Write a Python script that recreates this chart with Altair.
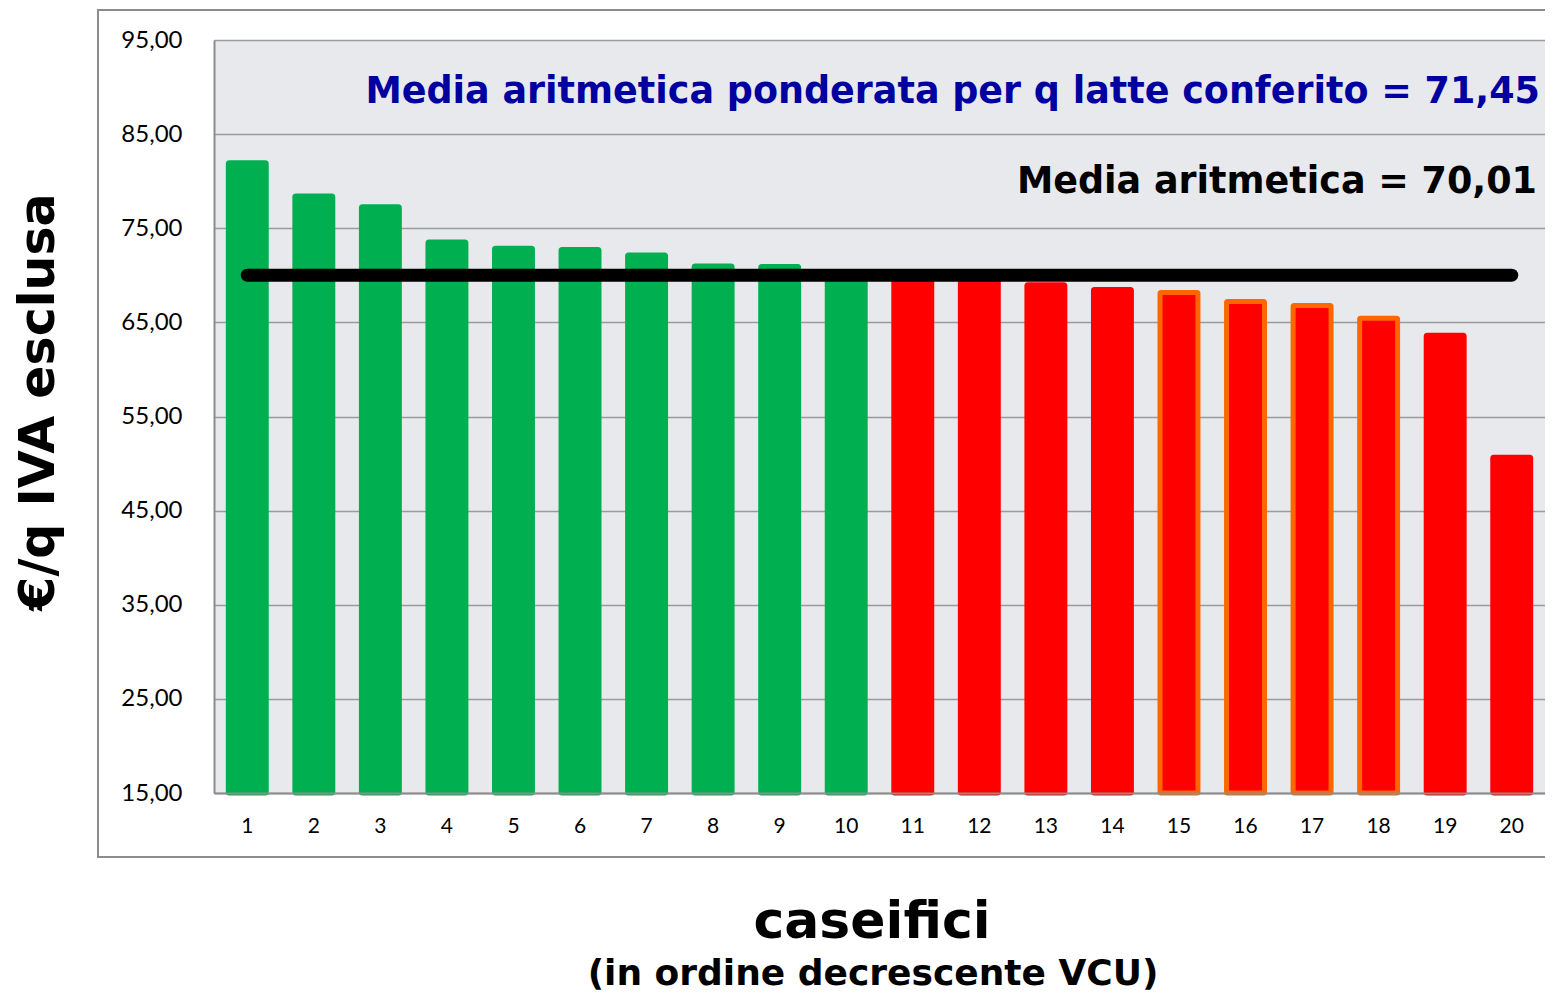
import altair as alt
import pandas as pd

# --- data ---
caseifici = list(range(1, 21))
vcu = [81.96, 78.43, 77.29, 73.55, 72.87, 72.73, 72.17, 71.00, 70.93, 70.30,
       69.90, 69.80, 69.00, 68.50, 68.17, 67.22, 66.79, 65.45, 63.64, 50.67]
colori = ["#00b050"] * 10 + ["#ff0000"] * 10
bordi = ["#00b050"] * 10 + ["#ff0000"] * 4 + ["#ff6600"] * 4 + ["#ff0000"] * 2
base_val = 15
media_aritmetica = 70.01
media_ponderata = 71.45
y_ticks = list(range(15, 96, 10))

df = pd.DataFrame({
    "caseificio": caseifici,
    "vcu": vcu,
    "base": [base_val] * len(caseifici),
    "fill": colori,
    "bordo": bordi,
})
df_media = pd.DataFrame({"caseificio": [caseifici[0], caseifici[-1]],
                         "media": [media_aritmetica, media_aritmetica]})

x_enc = alt.X(
    "caseificio:O",
    scale=alt.Scale(paddingInner=0.43, paddingOuter=0.215),
    axis=alt.Axis(title=None, labelAngle=0, labelFont="Lato", labelFontSize=21,
                  labelColor="black", labelPadding=22, ticks=False,
                  domainColor="#8c8c8c", domainWidth=2, zindex=1),
)
y_enc = alt.Y(
    "vcu:Q",
    scale=alt.Scale(domain=[15, 95], nice=False, zero=False),
    axis=alt.Axis(title=None, values=y_ticks,
                  labelExpr="replace(format(datum.value, '.2f'), '.', ',')",
                  labelFont="Lato", labelFontSize=24, labelColor="black",
                  labelPadding=32, ticks=False, grid=True,
                  gridColor="#9b9b9b", gridWidth=1.5,
                  domainColor="#8c8c8c", domainWidth=2),
)

bars = alt.Chart(df).mark_bar(strokeWidth=5, cornerRadius=1).encode(
    x=x_enc,
    y=y_enc,
    y2="base:Q",
    color=alt.Color("fill:N", scale=None),
    stroke=alt.Stroke("bordo:N", scale=None),
)

line = alt.Chart(df_media).mark_line(color="black", strokeWidth=13, strokeCap="round").encode(
    x=alt.X("caseificio:O"),
    y=alt.Y("media:Q"),
)

frame = alt.Chart(pd.DataFrame({"a": [0]})).mark_rect(
    fill="white", fillOpacity=0, stroke="#8c8c8c", strokeWidth=2
).encode(x=alt.value(-116), x2=alt.value(1400), y=alt.value(-30), y2=alt.value(817))


def testo(t, x, y, size, color, font, align, angle=0):
    return alt.Chart(pd.DataFrame({"t": [t]})).mark_text(
        align=align, baseline="alphabetic", font=font, fontSize=size,
        fontWeight="bold", color=color, angle=angle
    ).encode(x=alt.value(x), y=alt.value(y), text="t:N")


t_pond = testo("Media aritmetica ponderata per q latte conferito = "
               + f"{media_ponderata:.2f}".replace(".", ","),
               1326, 63, 36.5, "#0000a0", "DejaVu Sans", "right")
t_arit = testo("Media aritmetica = " + f"{media_aritmetica:.2f}".replace(".", ","),
               1323, 153, 36.5, "black", "DejaVu Sans", "right")
t_y = testo("€/q IVA esclusa", -160, 362, 49, "black", "DejaVu Sans", "center", angle=270)
t_x1 = testo("caseifici", 658, 898, 52, "black", "DejaVu Sans", "center")
t_x2 = testo("(in ordine decrescente VCU)", 659, 945, 36, "black", "DejaVu Sans", "center")

chart = alt.layer(frame, bars, line, t_pond, t_arit, t_y, t_x1, t_x2).properties(
    width=1331, height=753,
    autosize=alt.AutoSizeParams(type="none"),
    padding={"left": 206, "top": 32, "right": 0, "bottom": 203},
    background="white",
).configure_view(strokeWidth=0, fill="#e8e9ed")

chart.save("out.html", embed_options={"renderer": "svg", "actions": False})
